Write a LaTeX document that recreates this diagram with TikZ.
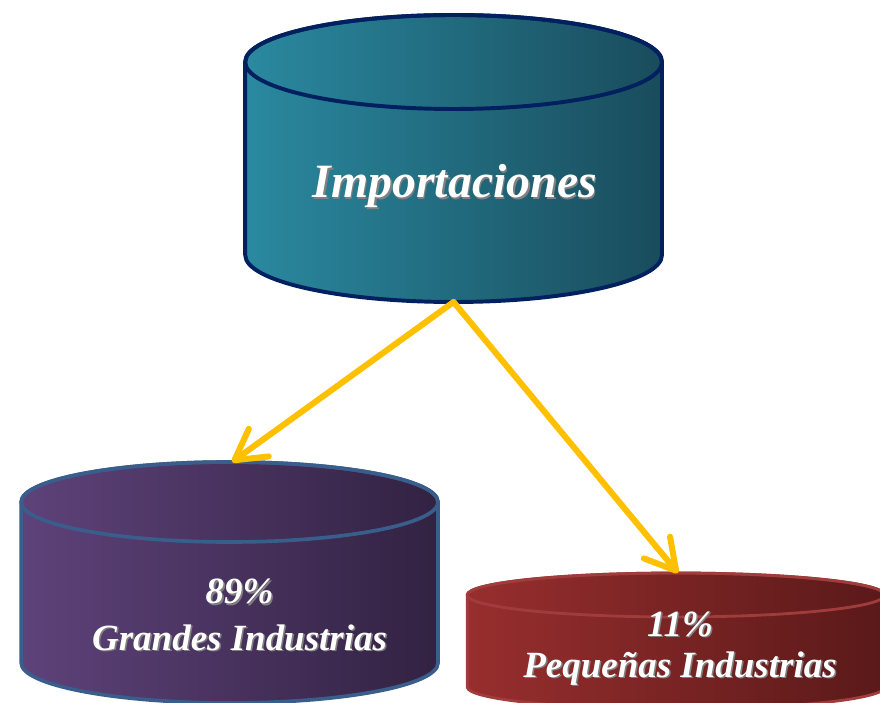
\documentclass[tikz,border=0pt]{standalone}
\usepackage{fontspec}
\setmainfont{Liberation Serif}
\usetikzlibrary{arrows.meta}

\definecolor{importLeft}{RGB}{42,137,160}
\definecolor{importRight}{RGB}{25,76,92}
\definecolor{importBorder}{RGB}{0,32,96}
\definecolor{grandesLeft}{RGB}{94,66,122}
\definecolor{grandesRight}{RGB}{50,34,66}
\definecolor{grandesBorder}{RGB}{58,94,140}
\definecolor{pequeLeft}{RGB}{152,46,46}
\definecolor{pequeRight}{RGB}{90,25,25}
\definecolor{pequeBorder}{RGB}{160,60,60}
\definecolor{arrowYellow}{RGB}{255,192,0}

\newcommand{\shtxt}[1]{\rlap{\raisebox{-1.1pt}{\kern1.1pt\textcolor{black!50}{#1}}}#1}

\tikzset{
  arrowLine/.style={draw=arrowYellow, line width=4.3pt, line cap=round, line join=round,
    -{Straight Barb[length=7.5mm, width=8.5mm, round]}},
  labelText/.style={text=white, font=\bfseries\itshape, align=center, anchor=base, inner sep=0pt}
}

\begin{document}
\begin{tikzpicture}
\clip (0,0) rectangle (22,17.55);
\fill[white] (0,0) rectangle (22,17.55);

\draw[line width=2.8pt, line join=round, draw=importBorder, left color=importLeft, right color=importRight] (6.13,16) -- (6.13,11.175) arc (180:360:5.21cm and 1.175cm) -- (16.55,16) arc (0:180:5.21cm and 1.175cm) -- cycle;
\draw[line width=2.8pt, draw=importBorder] (11.34,16) ellipse (5.21cm and 1.175cm);
\coordinate (importBottom) at (11.34,10.0);
\node[labelText, font=\fontsize{34}{40}\selectfont\bfseries\itshape] (importLabel) at (11.37,12.6) {\shtxt{Importaciones}};

\draw[line width=2.6pt, line join=round, draw=grandesBorder, left color=grandesLeft, right color=grandesRight] (0.53,5.0) -- (0.53,0.975) arc (180:360:5.21cm and 1.0cm) -- (10.95,5.0) arc (0:180:5.21cm and 1.0cm) -- cycle;
\draw[line width=2.6pt, draw=grandesBorder] (5.74,5.0) ellipse (5.21cm and 1.0cm);
\coordinate (grandesTop) at (5.8,6.0);
\node[labelText, font=\fontsize{26.3}{33}\selectfont\bfseries\itshape] (grandesLabel) at (5.99,1.3) {\shtxt{89\%}\\\shtxt{Grandes Industrias}};

\draw[line width=2pt, line join=round, draw=pequeBorder, left color=pequeLeft, right color=pequeRight] (11.68,2.675) -- (11.68,0.375) arc (180:360:5.22cm and 0.55cm) -- (22.12,2.675) arc (0:180:5.22cm and 0.55cm) -- cycle;
\draw[line width=2pt, draw=pequeBorder] (16.9,2.675) ellipse (5.22cm and 0.55cm);
\coordinate (pequeTop) at (16.95,3.225);
\node[labelText, font=\fontsize{26.3}{29}\selectfont\bfseries\itshape] (pequeLabel) at (17.0,0.625) {\shtxt{11\%}\\\shtxt{Pequeñas Industrias}};

\draw[arrowLine] (importBottom) -- (grandesTop);
\draw[arrowLine] (importBottom) -- (pequeTop);
\end{tikzpicture}
\end{document}
